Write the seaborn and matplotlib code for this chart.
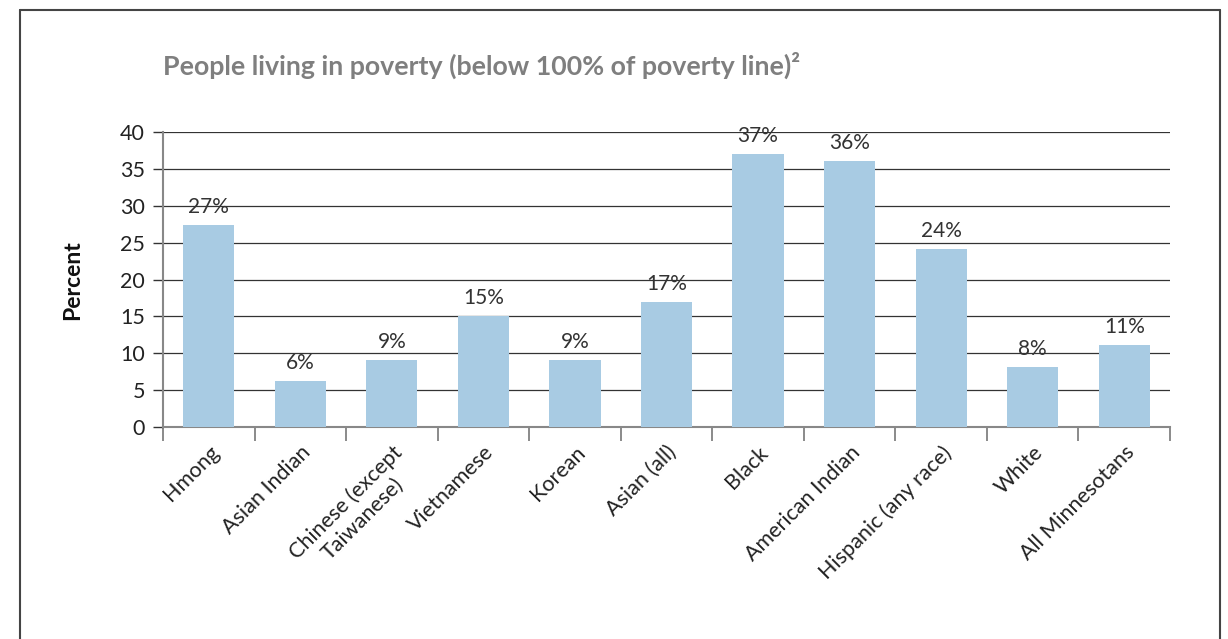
import matplotlib
matplotlib.use("Agg")
import matplotlib.pyplot as plt
from matplotlib.lines import Line2D
import seaborn as sns
import pandas as pd

categories = ["Hmong", "Asian Indian", "Chinese (except\nTaiwanese)", "Vietnamese",
              "Korean", "Asian (all)", "Black", "American Indian",
              "Hispanic (any race)", "White", "All Minnesotans"]
values = [27.4, 6.2, 9.1, 15.0, 9.1, 17.0, 37.0, 36.1, 24.1, 8.1, 11.1]
labels = ["27%", "6%", "9%", "15%", "9%", "17%", "37%", "36%", "24%", "8%", "11%"]
yticks = [0, 5, 10, 15, 20, 25, 30, 35, 40]

sns.set_theme(style="white")
plt.rcParams["font.family"] = ["Lato", "DejaVu Sans"]

W, H = 1228, 639
fig = plt.figure(figsize=(W / 100, H / 100), dpi=100)
ax = fig.add_axes([163 / W, 1 - 427 / H, (1170 - 163) / W, (427 - 132) / H])

df = pd.DataFrame({"cat": categories, "val": values})
sns.barplot(data=df, x="cat", y="val", color="#a8cbe3", saturation=1,
            width=0.56, ax=ax, zorder=3, linewidth=0)

ax.set_xlim(-0.5, len(categories) - 0.5)
ax.set_ylim(0, 40)
ax.set_yticks(yticks)
ax.set_yticklabels([str(t) for t in yticks], fontsize=15.5, color="#222222")
ax.yaxis.grid(True, color="#333333", linewidth=0.9, zorder=0)
ax.set_axisbelow(True)

for s in ["top", "right"]:
    ax.spines[s].set_visible(False)
ax.spines["left"].set_color("#888888")
ax.spines["left"].set_linewidth(1.5)
ax.spines["bottom"].set_color("#888888")
ax.spines["bottom"].set_linewidth(1.5)
ax.tick_params(axis="y", length=7, width=1.0, color="#333333", pad=6, left=True)

# category boundary ticks
ax.set_xticks([i - 0.5 for i in range(len(categories) + 1)], minor=True)
ax.tick_params(axis="x", which="minor", length=10, width=1.2, color="#777777", bottom=True)
ax.set_xticks(range(len(categories)))
ax.tick_params(axis="x", which="major", length=0, pad=11)
ax.set_xticklabels(categories, rotation=45, ha="right", va="top",
                   rotation_mode="anchor", fontsize=15.5, color="#222222",
                   multialignment="center")
for lab in ax.get_xticklabels():
    lab.set_linespacing(1.2)

for i, (v, t) in enumerate(zip(values, labels)):
    ax.text(i, v + 1.1, t, ha="center", va="bottom", fontsize=15, color="#333333")

ax.set_xlabel("")
ax.set_ylabel("")
fig.text(73 / W, 1 - 280 / H, "Percent", rotation=90, ha="center", va="center",
         fontsize=16.5, fontweight="bold", color="#111111")

fig.text(163 / W, 1 - 65 / H, "People living in poverty (below 100% of poverty line)²",
         ha="left", va="center", fontsize=19.3, fontweight="bold", color="#7f7f7f")

# frame
fc = "#444444"
fig.add_artist(Line2D([20 / W, 20 / W], [0, 1 - 9.5 / H], transform=fig.transFigure, color=fc, lw=1.5))
fig.add_artist(Line2D([20 / W, 1220 / W], [1 - 9.5 / H, 1 - 9.5 / H], transform=fig.transFigure, color=fc, lw=1.5))
fig.add_artist(Line2D([1220 / W, 1220 / W], [0, 1 - 9.5 / H], transform=fig.transFigure, color=fc, lw=1.5))

fig.savefig("out.png", dpi=100)
